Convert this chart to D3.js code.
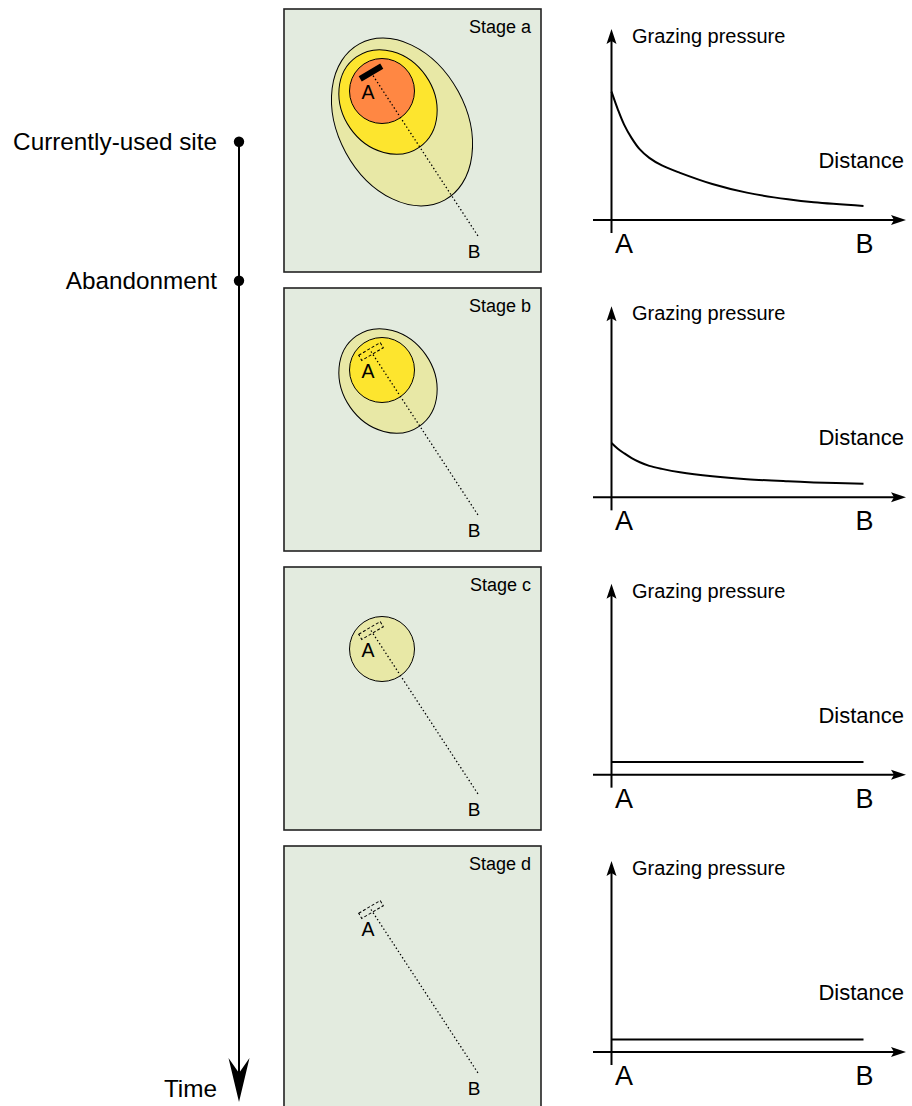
<!DOCTYPE html>
<html><head><meta charset="utf-8">
<script src="https://cdn.jsdelivr.net/npm/d3@7"></script>
<style>
body{margin:0;background:#fff}
svg{display:block}
text{font-family:"Liberation Sans",Arial,Helvetica,sans-serif;fill:#000}
</style>
</head><body>
<svg id="chart" width="912" height="1106"></svg>
<script>
// ---- data ----
const stageLabels = ["Stage a", "Stage b", "Stage c", "Stage d"];
const timelineEvents = ["Currently-used site", "Abandonment"];
const timeLabel = "Time";
const yAxisLabel = "Grazing pressure";
const xAxisLabel = "Distance";
const endLabels = ["A", "B"];
const distance = [0, 0.025, 0.05, 0.08, 0.1125, 0.15, 0.2, 0.272, 0.4, 0.537, 0.7, 0.803, 1];
const pressureA = [0.713, 0.615, 0.53, 0.455, 0.392, 0.345, 0.303, 0.262, 0.2, 0.152, 0.115, 0.098, 0.078];
const pressureB = [0.302, 0.27, 0.245, 0.218, 0.195, 0.175, 0.158, 0.139, 0.117, 0.101, 0.089, 0.083, 0.075];
const pressureC = [0.07, 0.07, 0.07, 0.07, 0.07, 0.07, 0.07, 0.07, 0.07, 0.07, 0.07, 0.07, 0.07];
const pressureD = [0.07, 0.07, 0.07, 0.07, 0.07, 0.07, 0.07, 0.07, 0.07, 0.07, 0.07, 0.07, 0.07];
const pressures = [pressureA, pressureB, pressureC, pressureD];
// grazing zones present at each stage (outermost first)
const zoneNames = [["outer", "middle", "core"], ["middle", "core"], ["core"], []];
const zoneColors = [["#e8e8a6", "#fde52e", "#ff8743"], ["#e8e8a6", "#fde52e"], ["#e8e8a6"], []];
const siteActive = [true, false, false, false];

// ---- layout ----
const svg = d3.select("#chart");
const boxTop = d3.scaleLinear().domain([0, 3]).range([9, 846]);
const axisY = d3.scaleLinear().domain([0, 3]).range([220, 1052]);
const boxX = 284, boxW = 257, boxH = 263;
const shapes = {
  outer: {cx: 402, cy: 113, rx: 64, ry: 89, rot: -28.6},
  middle: {cx: 388, cy: 93, rx: 46, ry: 55, rot: -35},
  core: {cx: 382, cy: 82, rx: 32.5, ry: 32.5, rot: 0}
};
const site = {cx: 371, cy: 63.5, w: 25, h: 6, rot: -30.6};
const lineEnd = {x: 478, y: 227};

// ---- timeline ----
const tlX = 239;
const tl = svg.append("g");
const eventY = d3.scalePoint().domain(timelineEvents).range([141.7, 280.7]);
tl.append("line").attr("x1", tlX).attr("x2", tlX).attr("y1", 141.7).attr("y2", 1085)
  .attr("stroke", "#000").attr("stroke-width", 2);
tl.append("path")
  .attr("d", `M${tlX},1102 L${tlX - 10.5},1058 L${tlX},1073 L${tlX + 10.5},1058 Z`)
  .attr("fill", "#000");
timelineEvents.forEach(ev => {
  tl.append("circle").attr("cx", tlX).attr("cy", eventY(ev)).attr("r", 5.2).attr("fill", "#000");
  tl.append("text").attr("x", 217).attr("y", eventY(ev) + 8).attr("text-anchor", "end")
    .attr("font-size", 24.3).text(ev);
});
tl.append("text").attr("x", 217).attr("y", 1097).attr("text-anchor", "end")
  .attr("font-size", 24.3).text(timeLabel);

// ---- stage panels ----
stageLabels.forEach((lab, i) => {
  const g = svg.append("g").attr("transform", `translate(0,${boxTop(i)})`);
  g.append("rect").attr("x", boxX).attr("y", 0).attr("width", boxW).attr("height", boxH)
    .attr("fill", "#e3ebdf").attr("stroke", "#222").attr("stroke-width", 1.6);
  zoneNames[i].forEach((z, k) => {
    const s = shapes[z];
    g.append("ellipse").attr("cx", 0).attr("cy", 0).attr("rx", s.rx).attr("ry", s.ry)
      .attr("transform", `translate(${s.cx},${s.cy}) rotate(${s.rot})`)
      .attr("fill", zoneColors[i][k]).attr("stroke", "#000").attr("stroke-width", 1);
  });
  g.append("line").attr("x1", site.cx).attr("y1", site.cy).attr("x2", lineEnd.x).attr("y2", lineEnd.y)
    .attr("stroke", "#000").attr("stroke-width", 1.3).attr("stroke-dasharray", "1.4,2.4");
  const r = g.append("rect").attr("x", -site.w / 2).attr("y", -site.h / 2)
    .attr("width", site.w).attr("height", site.h)
    .attr("transform", `translate(${site.cx},${site.cy}) rotate(${site.rot})`);
  if (siteActive[i]) r.attr("fill", "#000");
  else r.attr("fill", "none").attr("stroke", "#000").attr("stroke-width", 1).attr("stroke-dasharray", "3,2");
  g.append("text").attr("x", 368).attr("y", 90).attr("text-anchor", "middle").attr("font-size", 19.5).text(endLabels[0]);
  g.append("text").attr("x", 474).attr("y", 248.5).attr("text-anchor", "middle").attr("font-size", 19).text(endLabels[1]);
  g.append("text").attr("x", 531).attr("y", 23.5).attr("text-anchor", "end").attr("font-size", 18).text(lab);
});

// ---- graphs ----
const x = d3.scaleLinear().domain([0, 1]).range([611.5, 863.5]);
stageLabels.forEach((lab, i) => {
  const ay = axisY(i);
  const y = d3.scaleLinear().domain([0, 1]).range([ay, ay - 180]);
  const g = svg.append("g");
  // x axis
  g.append("line").attr("x1", 593).attr("x2", 896).attr("y1", ay).attr("y2", ay)
    .attr("stroke", "#000").attr("stroke-width", 2);
  g.append("path").attr("d", `M906,${ay} L891,${ay - 5} L894,${ay} L891,${ay + 5} Z`).attr("fill", "#000");
  // y axis
  g.append("line").attr("x1", x(0)).attr("x2", x(0)).attr("y1", ay + 13).attr("y2", ay - 180)
    .attr("stroke", "#000").attr("stroke-width", 2);
  g.append("path").attr("d", `M${x(0)},${ay - 191} L${x(0) - 5},${ay - 176} L${x(0)},${ay - 179} L${x(0) + 5},${ay - 176} Z`).attr("fill", "#000");
  // curve
  const line = d3.line().x(d => x(d[0])).y(d => y(d[1])).curve(d3.curveCatmullRom.alpha(0.5));
  g.append("path").attr("d", line(distance.map((d, k) => [d, pressures[i][k]])))
    .attr("fill", "none").attr("stroke", "#000").attr("stroke-width", 2);
  g.append("text").attr("x", 632).attr("y", ay - 177).attr("font-size", 20).text(yAxisLabel);
  g.append("text").attr("x", 904).attr("y", ay - 52).attr("text-anchor", "end").attr("font-size", 22).text(xAxisLabel);
  g.append("text").attr("x", x(0) + 12.5).attr("y", ay + 33).attr("text-anchor", "middle").attr("font-size", 27).text(endLabels[0]);
  g.append("text").attr("x", x(1) + 1).attr("y", ay + 33).attr("text-anchor", "middle").attr("font-size", 27).text(endLabels[1]);
});
</script>
</body></html>
